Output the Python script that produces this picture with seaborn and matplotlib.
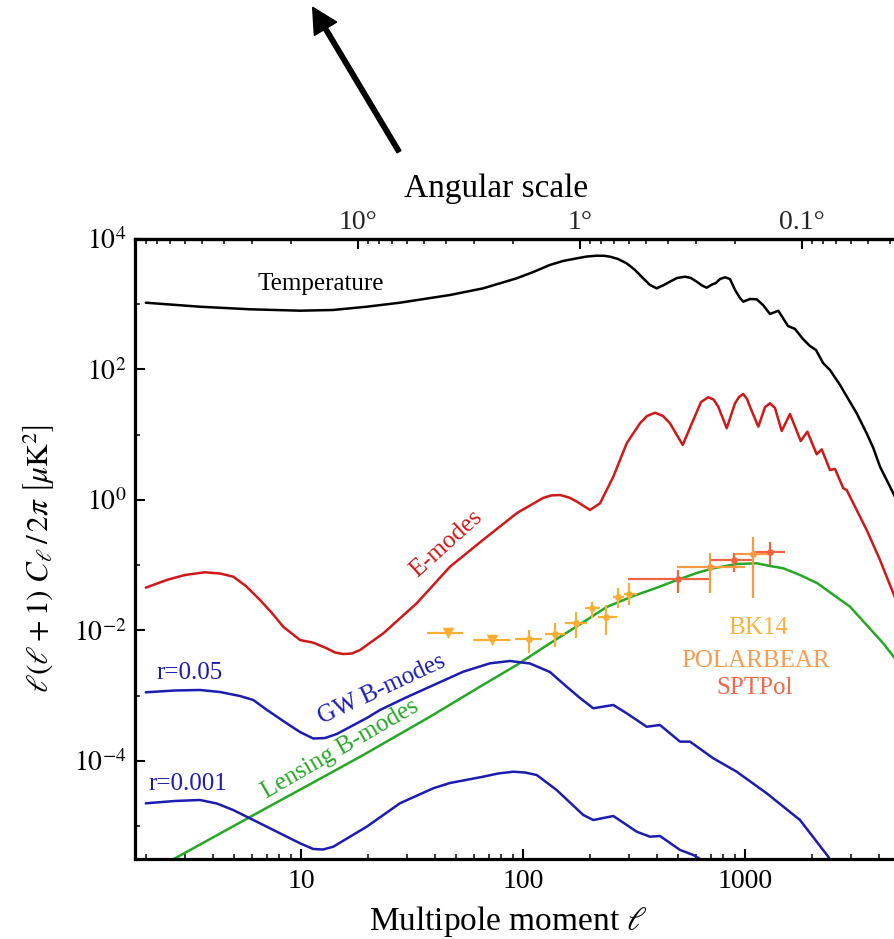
import numpy as np
import matplotlib
matplotlib.use("Agg")
import matplotlib.pyplot as plt
import seaborn as sns
from matplotlib.patches import FancyArrow
from matplotlib.transforms import IdentityTransform
from matplotlib.ticker import FixedLocator, FuncFormatter, LogLocator, NullFormatter

# ---------------- data ----------------
tt_ell = [2, 3.5, 5.9, 9.9, 13.9, 19.8, 27.9, 46.9, 66.2, 93.7,
          111.3, 132, 151.4, 175, 194.2, 215, 231.7, 247, 267.9, 293,
          319.6, 348, 373.4, 400, 427, 459, 494, 537, 571, 606,
          640.2, 672, 710.3, 740, 771.7, 813, 855.7, 902, 949.5, 982,
          1053, 1129, 1205, 1296, 1413, 1562, 1680, 1825, 1962, 2089,
          2246, 2415, 2679, 3186, 3533, 3784, 4056, 4500, 4992]
tt_dl = [1056, 917, 837, 797, 816, 917, 1056, 1386, 1755, 2499,
         3121, 3995, 4601, 5060, 5393, 5548, 5527, 5355, 4938, 4242,
         3349, 2499, 1972, 1755, 1939, 2216, 2525, 2644, 2525, 2216,
         1939, 1793, 2008, 2117, 2438, 2588, 2438, 1654, 1247, 1094,
         1204, 1191, 974, 709, 796, 464, 418, 293, 229, 199,
         126, 98, 58, 21.3, 10.5, 6.27, 3.24, 1.60, 0.78]

ee_ell = [2, 2.48, 3.00, 3.69, 4.32, 4.95, 5.65, 6.54, 7.40, 8.32,
          9.9, 11.36, 13.05, 14.23, 15.5, 16.97, 18.44, 23.5, 33.2, 46.9,
          66.0, 94.0, 123.1, 133.7, 146.8, 161.2, 175.1, 200.4, 222.3, 255.2,
          293.2, 336.5, 362, 393.1, 427, 459.3, 524.1, 585.0, 633.8, 683.3,
          721.4, 758.0, 827.3, 901.6, 939.8, 982.5, 1021, 1053, 1148, 1231,
          1296, 1365, 1463, 1595, 1782, 1909, 2104, 2216, 2415, 2543,
          2773, 2872, 3130, 3533, 4056, 4656, 4992]
ee_dl = [0.0453, 0.0594, 0.0709, 0.078, 0.0747, 0.0668, 0.0481, 0.0293, 0.01854, 0.0114,
         0.00715, 0.0065, 0.00534, 0.0046, 0.00436, 0.00444, 0.00502, 0.00906, 0.0261, 0.095,
         0.244, 0.632, 1.073, 1.172, 1.193, 1.092, 0.942, 0.703, 0.890, 2.276,
         7.40, 14.98, 19.4, 21.77, 19.4, 14.98, 6.97, 16.83, 31.8, 37.5,
         34.7, 26.9, 12.56, 30.3, 37.9, 42.1, 35.3, 26.9, 13.29, 26.6,
         30.3, 25.7, 11.42, 20.8, 8.02, 11.14, 5.02, 5.98, 2.88, 2.99,
         1.511, 1.42, 0.789, 0.347, 0.1203, 0.0372, 0.0206]

gw05_ell = [2, 2.71, 3.51, 4.32, 5.31, 6.10, 7.03, 8.62, 9.9, 11.36,
            12.83, 14.48, 19.8, 22.7, 29.4, 38.1, 53.8, 71.0, 87.4, 107.5,
            132.3, 157.3, 180.6, 207.4, 255.2, 293.2, 360.8, 414.1, 509.6, 565.3,
            719.7, 917.6, 1252, 1769, 2372, 2543]
gw05_dl = [1.129e-3, 1.204e-3, 1.225e-3, 1.141e-3, 9.91e-4, 8.61e-4, 6.05e-4, 3.78e-4, 2.78e-4, 2.21e-4,
           2.25e-4, 2.59e-4, 4.56e-4, 6.05e-4, 9.24e-4, 1.376e-3, 2.336e-3, 3.14e-3, 3.41e-3, 3.12e-3,
           2.31e-3, 1.376e-3, 9.24e-4, 6.42e-4, 7.22e-4, 5.38e-4, 3.35e-4, 3.56e-4, 1.98e-4, 1.98e-4,
           1.10e-4, 6.85e-5, 3.20e-5, 1.246e-5, 3.41e-6, 2.29e-6]

gw001_ell = [2, 2.71, 3.51, 4.18, 4.95, 7.01, 9.9, 11.36, 12.57, 13.98,
             19.77, 27.9, 39.4, 46.9, 66.2, 77.2, 90.4, 102.1, 115.3, 141.8,
             186.9, 207.4, 255.2, 325.3, 373.4, 414.1, 509.6, 585, 660.4]
gw001_dl = [2.247e-5, 2.44e-5, 2.525e-5, 2.23e-5, 1.774e-5, 9.84e-6, 5.48e-6, 4.48e-6, 4.40e-6, 4.86e-6,
            9.84e-6, 2.247e-5, 3.815e-5, 4.60e-5, 5.75e-5, 6.43e-5, 6.85e-5, 6.66e-5, 6.10e-5, 3.59e-5,
            1.487e-5, 1.246e-5, 1.436e-5, 8.25e-6, 6.91e-6, 7.09e-6, 4.33e-6, 3.63e-6, 2.83e-6]

lens_ell = [2.32, 2.66, 6.32, 13.51, 19.08, 38.1, 64.0, 93.7, 132.3, 193.6, 238.2, 313.9, 386.3,
            509.6, 606, 719.7, 917.6, 1129, 1296, 1488, 1769, 2110, 2972, 4183, 4992]
lens_dl = [2.374e-6, 3.115e-6, 1.579e-5, 6.48e-5, 1.236e-4, 4.77e-4, 1.376e-3, 2.96e-3, 6.36e-3,
           0.01449, 0.02292, 0.0338, 0.04325, 0.0616, 0.0761, 0.0898, 0.1045, 0.1071, 0.0974,
           0.0898, 0.0709, 0.0534, 0.02316, 0.00643, 0.00296]

# BK14 upper limits
bkul_ell = [46.1, 72.7]
bkul_lo = [36.8, 59.7]
bkul_hi = [53.8, 87.4]
bkul_dl = [0.00931, 0.00703]
# BK14 detections
bk_ell = [106.8, 139.4, 173.3, 205.6, 236.5, 268.8, 301.8]
bk_lo = [92.0, 125.7, 154.6, 190.2, 218.4, 253.6, 285.1]
bk_hi = [121.4, 154.6, 193.6, 222.3, 264.3, 285.1, 325.3]
bk_dl = [0.00733, 0.00884, 0.01289, 0.02189, 0.01594, 0.0323, 0.03626]
bk_dlo = [0.00447, 0.00564, 0.0076, 0.01538, 0.00853, 0.0225, 0.0246]
bk_dhi = [0.01018, 0.01289, 0.01941, 0.02763, 0.0246, 0.0443, 0.0529]
# POLARBEAR
pb_ell = [695.5, 1090]
pb_lo = [494, 901.6]
pb_hi = [1000, 1296]
pb_dl = [0.093, 0.1488]
pb_dlo = [0.0372, 0.0311]
pb_dhi = [0.1525, 0.274]
# SPTPol
sp_ell = [497.6, 892.3, 1296]
sp_lo = [298.1, 695.5, 1086]
sp_hi = [695.5, 1086, 1514]
sp_dl = [0.0609, 0.1203, 0.1596]
sp_dlo = [0.0372, 0.0796, 0.1009]
sp_dhi = [0.0846, 0.154, 0.2272]

top_ticks = [10, 1, 0.1]
bottom_ticks = [10, 100, 1000]
y_major = [1e-4, 1e-2, 1, 1e2, 1e4]
y_minor = [1e-5, 1e-3, 1e-1, 1e1, 1e3]

# ---------------- style ----------------
sns.set_theme(style="ticks")
plt.rcParams["font.family"] = ["Liberation Serif", "DejaVu Serif"]
plt.rcParams["mathtext.fontset"] = "stix"
plt.rcParams["axes.unicode_minus"] = False

W, H = 894, 939
fig = plt.figure(figsize=(W / 100, H / 100), dpi=100)
fig.patch.set_facecolor("white")
ax = fig.add_axes([135 / W, 80 / H, 832 / W, 620 / H])
ax.set_facecolor("white")
ax.set_xscale("log")
ax.set_yscale("log")

C_T = "black"
C_E = "#D01818"
C_GW = "#1C1CB0"
C_L = "#26A826"
C_BK = "#FBAE34"
C_PB = "#F99A45"
C_SP = "#F06440"

for ell, dl, col in [(tt_ell, tt_dl, C_T), (ee_ell, ee_dl, C_E), (lens_ell, lens_dl, C_L),
                     (gw05_ell, gw05_dl, C_GW), (gw001_ell, gw001_dl, C_GW)]:
    sns.lineplot(x=np.array(ell), y=np.array(dl), color=col, linewidth=1.8,
                 sort=False, estimator=None, ax=ax,
                 solid_joinstyle="round", solid_capstyle="round")


def bars(ell, lo, hi, dl, dlo, dhi, col):
    ell = np.array(ell); dl = np.array(dl)
    xerr = [ell - np.array(lo), np.array(hi) - ell]
    yerr = None if dlo is None else [dl - np.array(dlo), np.array(dhi) - dl]
    ax.errorbar(ell, dl, xerr=xerr, yerr=yerr, fmt="none", ecolor=col,
                elinewidth=1.6, capsize=0, zorder=4)


bars(bkul_ell, bkul_lo, bkul_hi, bkul_dl, None, None, C_BK)
sns.scatterplot(x=bkul_ell, y=bkul_dl, marker="v", s=70, color=C_BK, edgecolor=C_BK,
                linewidth=0, ax=ax, zorder=5)
bars(bk_ell, bk_lo, bk_hi, bk_dl, bk_dlo, bk_dhi, C_BK)
sns.scatterplot(x=bk_ell, y=bk_dl, marker="o", s=24, color=C_BK, edgecolor=C_BK,
                linewidth=0, ax=ax, zorder=5)
bars(sp_ell, sp_lo, sp_hi, sp_dl, sp_dlo, sp_dhi, C_SP)
sns.scatterplot(x=sp_ell, y=sp_dl, marker="o", s=24, color=C_SP, edgecolor=C_SP,
                linewidth=0, ax=ax, zorder=5)
bars(pb_ell, pb_lo, pb_hi, pb_dl, pb_dlo, pb_dhi, C_PB)
sns.scatterplot(x=pb_ell, y=pb_dl, marker="o", s=24, color=C_PB, edgecolor=C_PB,
                linewidth=0, ax=ax, zorder=5)

ax.set_xlim(1.788, 1e4)
ax.set_ylim(10 ** -5.502, 1e4)

# ticks
ax.xaxis.set_major_locator(FixedLocator(bottom_ticks))
ax.xaxis.set_major_formatter(FuncFormatter(lambda v, p: f"{v:g}"))
ax.xaxis.set_minor_locator(LogLocator(base=10, subs=np.arange(2, 10), numticks=60))
ax.xaxis.set_minor_formatter(NullFormatter())
ax.yaxis.set_major_locator(FixedLocator(y_major))
ax.yaxis.set_major_formatter(FuncFormatter(lambda v, p: r"$10^{%d}$" % int(round(np.log10(v)))))
ax.yaxis.set_minor_locator(FixedLocator(y_minor))
ax.yaxis.set_minor_formatter(NullFormatter())
ax.tick_params(which="both", direction="in", top=False, right=False, labelsize=20,
               color="black", labelcolor="black")
ax.tick_params(which="major", length=7, width=1.5)
ax.tick_params(which="minor", length=3.5, width=1.1)
ax.tick_params(axis="x", which="both", pad=7)
ax.tick_params(axis="y", which="both", pad=6)
for s in ["left", "bottom", "top"]:
    ax.spines[s].set_linewidth(2.3)
    ax.spines[s].set_color("black")
ax.spines["right"].set_visible(False)


def l2t(x):
    x = np.asarray(x, dtype=float)
    with np.errstate(divide="ignore", invalid="ignore"):
        return 180.0 / x


secax = ax.secondary_xaxis("top", functions=(l2t, l2t))
secax.xaxis.set_major_locator(FixedLocator(top_ticks))
secax.xaxis.set_major_formatter(FuncFormatter(lambda v, p: f"{v:g}°"))
secax.xaxis.set_minor_locator(LogLocator(base=10, subs=np.arange(2, 10), numticks=60))
secax.xaxis.set_minor_formatter(NullFormatter())
secax.tick_params(which="both", direction="in", labelsize=20, pad=3, color="black")
secax.tick_params(which="major", length=7, width=1.5)
secax.tick_params(which="minor", length=3.5, width=1.1)
secax.spines["top"].set_linewidth(2.3)

# axis labels
ax.set_xlabel(r"Multipole moment $\ell$", fontsize=24, color="black")
ax.xaxis.label.set_va("baseline")
ax.xaxis.set_label_coords(0.449, (859 - 930) / 620)
ax.set_ylabel(r"$\ell(\ell+1)\ C_{\ell}\,/\,2\pi\ \left[\mu\mathrm{K}^2\right]$",
              fontsize=22.5, color="black")
ax.yaxis.set_label_coords((57 - 135) / 832, 0.484)
fig.text(496.5 / W, 1 - 197 / H, "Angular scale", ha="center", va="baseline",
         fontsize=24, color="black")

# annotations
kw = dict(ha="center", va="center", fontsize=18, rotation_mode="anchor")
ax.text(12.31, 2043, "Temperature", color="black", **kw)
ax.text(45.0, 0.2117, "E-modes", color=C_E, rotation=42, **kw)
ax.text(23.2, 1.269e-3, "GW B-modes", color=C_GW, rotation=25, **kw)
ax.text(14.99, 1.527e-4, "Lensing B-modes", color=C_L, rotation=30, **kw)
ax.text(3.16, 2.232e-3, "r=0.05", color=C_GW, **kw)
ax.text(3.08, 4.44e-5, "r=0.001", color=C_GW, **kw)
ax.text(1145, 0.01092, "BK14", color="#FBB040", **kw)
ax.text(1121, 3.41e-3, "POLARBEAR", color="#F99B50", **kw)
ax.text(1109, 1.315e-3, "SPTPol", color="#F26848", **kw)

# arrow at the top
arrow = FancyArrow(399, H - 151.7, 312.7 - 399, 151.7 - 7.3, width=4.5, head_width=26,
                   head_length=25, length_includes_head=True, color="black",
                   transform=IdentityTransform())
fig.add_artist(arrow)

fig.savefig("out.png", dpi=100, facecolor="white")
